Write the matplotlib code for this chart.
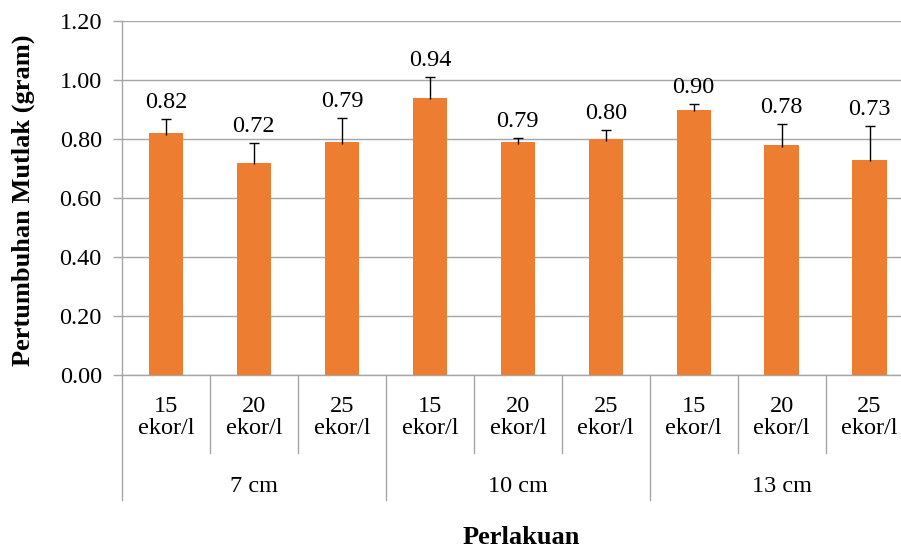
import numpy as np
import matplotlib.pyplot as plt

plt.rcParams["font.family"] = ["Liberation Serif", "DejaVu Serif"]

# data
density = ["15", "20", "25", "15", "20", "25", "15", "20", "25"]
groups = ["7 cm", "10 cm", "13 cm"]
values = [0.82, 0.72, 0.79, 0.94, 0.79, 0.80, 0.90, 0.78, 0.73]
errors = [0.047, 0.067, 0.080, 0.070, 0.014, 0.031, 0.017, 0.070, 0.113]
yticks = [0.0, 0.2, 0.4, 0.6, 0.8, 1.0, 1.2]

W, H = 901, 549
fig = plt.figure(figsize=(W / 100, H / 100), dpi=100)

# axes placed in pixel terms (the original is cut off at the right edge)
left, right, top, bottom = 122, 901, 21, 375
ax = fig.add_axes([left / W, 1 - bottom / H, (right - left) / W, (bottom - top) / H])

cat_w = 87.95  # pixels per category
x = np.arange(len(values))
vals = np.array(values)
errs = np.array(errors)
grid_col = "#A6A6A6"
bar_col = "#ED7D31"

ax.bar(x, vals, width=0.39, color=bar_col, zorder=3)

# upper error bars only, cap on top only
cap = 5 / cat_w
ax.vlines(x, vals - 0.006, vals + errs, color="black", lw=1, zorder=4)
ax.hlines(vals + errs, x - cap, x + cap, color="black", lw=1, zorder=4)

for xi, v, e in zip(x, vals, errs):
    ax.annotate(f"{v:.2f}", (xi, v + e), xytext=(0, 8), textcoords="offset points",
                ha="center", va="baseline", fontsize=17.5)

ax.set_xlim(-0.5, -0.5 + (right - left) / cat_w)
ax.set_ylim(0, 1.2)
ax.set_yticks(yticks)
ax.set_yticklabels([f"{t:.2f}" for t in yticks], fontsize=17.5)
ax.tick_params(axis="y", length=6.5, color=grid_col, width=1, pad=8)
ax.set_xticks([])

ax.yaxis.grid(True, color=grid_col, lw=1)
ax.set_axisbelow(True)
for s in ["top", "right"]:
    ax.spines[s].set_visible(False)
for s in ["left", "bottom"]:
    ax.spines[s].set_color(grid_col)
    ax.spines[s].set_linewidth(1)

# category labels under the axis
axh = bottom - top
tr = ax.get_xaxis_transform()
for xi, d in zip(x, density):
    ax.text(xi, -(407 - bottom) / axh, d, transform=tr, ha="center", va="center",
            fontsize=17.5, clip_on=False)
    ax.text(xi, -(429 - bottom) / axh, "ekor/l", transform=tr, ha="center", va="center",
            fontsize=17.5, clip_on=False)

for i, g in enumerate(groups):
    ax.text(3 * i + 1, -(487 - bottom) / axh, g, transform=tr, ha="center", va="center",
            fontsize=17.5, clip_on=False)

# separator lines
for i in range(len(values) + 1):
    xs = i - 0.5
    depth = 500 if i % 3 == 0 else 453
    ax.plot([xs, xs], [0, -(depth - bottom) / axh], transform=tr, color=grid_col,
            lw=1, clip_on=False)

fig.text(521 / W, 1 - 537 / H, "Perlakuan", ha="center", va="center",
         fontsize=19, fontweight="bold")
fig.text(23 / W, 1 - 200 / H, "Pertumbuhan Mutlak (gram)", ha="center", va="center",
         rotation=90, fontsize=19, fontweight="bold")

fig.savefig("out.png", dpi=100)
